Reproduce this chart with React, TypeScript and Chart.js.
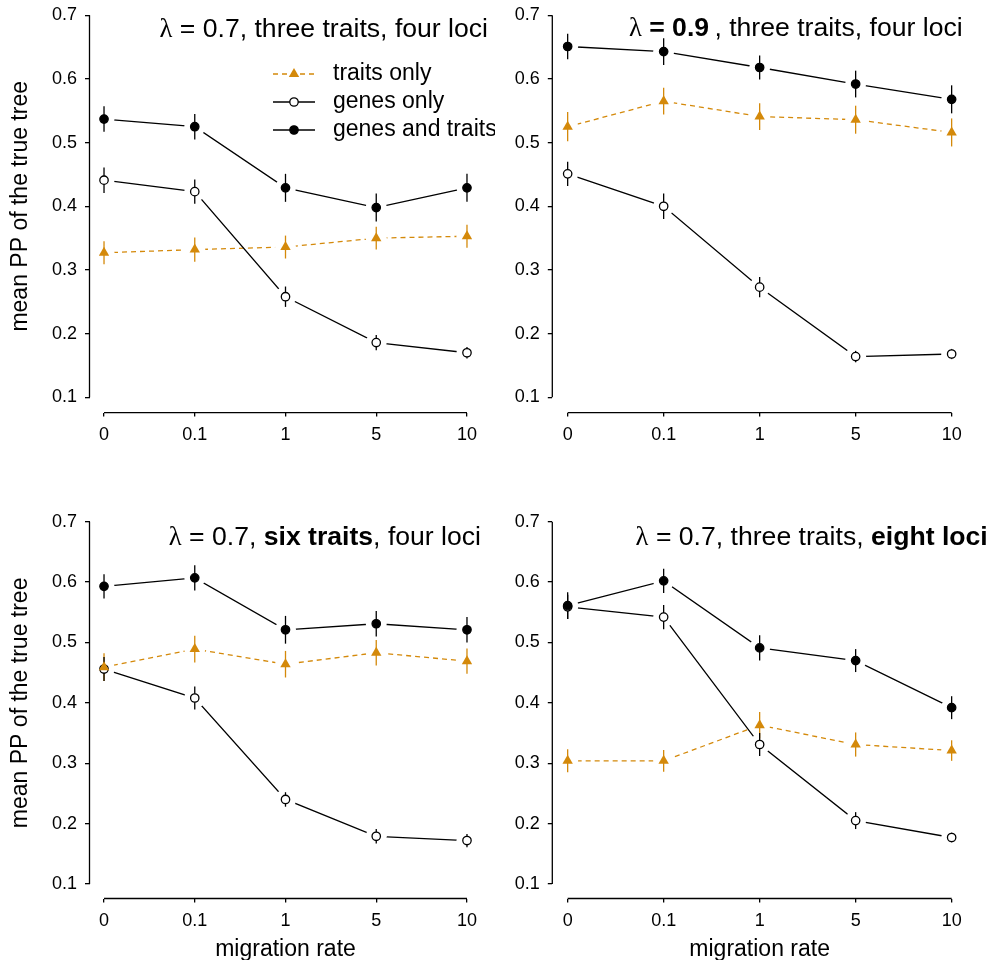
import React, { useEffect, useRef } from 'react';
import { Chart, registerables } from 'chart.js';

Chart.register(...registerables);

// ---------- data ----------
const migrationRates = ['0', '0.1', '1', '5', '10'];
const yTickValues = [0.1, 0.2, 0.3, 0.4, 0.5, 0.6, 0.7];
const seriesNames = ['traits only', 'genes only', 'genes and traits'];
const yAxisTitle = 'mean PP of the true tree';
const xAxisTitle = 'migration rate';

// Panel A: lambda = 0.7, three traits, four loci
const aTraits = [0.327, 0.332, 0.336, 0.350, 0.353];
const aTraitsErr = [0.018, 0.019, 0.018, 0.018, 0.018];
const aGenes = [0.441, 0.423, 0.258, 0.186, 0.170];
const aGenesErr = [0.020, 0.019, 0.016, 0.012, 0.009];
const aBoth = [0.537, 0.525, 0.429, 0.398, 0.429];
const aBothErr = [0.020, 0.020, 0.022, 0.022, 0.022];

// Panel B: lambda = 0.9, three traits, four loci
const bTraits = [0.525, 0.565, 0.541, 0.536, 0.516];
const bTraitsErr = [0.023, 0.021, 0.021, 0.022, 0.022];
const bGenes = [0.451, 0.400, 0.273, 0.164, 0.168];
const bGenesErr = [0.019, 0.020, 0.016, 0.009, 0.008];
const bBoth = [0.651, 0.643, 0.618, 0.592, 0.568];
const bBothErr = [0.020, 0.021, 0.019, 0.021, 0.022];

// Panel C: lambda = 0.7, six traits, four loci
const cTraits = [0.459, 0.489, 0.464, 0.483, 0.469];
const cTraitsErr = [0.023, 0.022, 0.022, 0.021, 0.021];
const cGenes = [0.456, 0.408, 0.240, 0.179, 0.172];
const cGenesErr = [0.020, 0.019, 0.012, 0.012, 0.011];
const cBoth = [0.593, 0.607, 0.521, 0.531, 0.521];
const cBothErr = [0.020, 0.021, 0.023, 0.021, 0.021];

// Panel D: lambda = 0.7, three traits, eight loci
const dTraits = [0.304, 0.304, 0.363, 0.331, 0.321];
const dTraitsErr = [0.019, 0.018, 0.022, 0.020, 0.017];
const dGenes = [0.559, 0.542, 0.331, 0.205, 0.177];
const dGenesErr = [0.020, 0.020, 0.019, 0.014, 0.008];
const dBoth = [0.561, 0.602, 0.491, 0.470, 0.392];
const dBothErr = [0.022, 0.020, 0.021, 0.019, 0.019];

// title pieces: [text, style]  style: 's' = symbol, 'n' = normal, 'b' = bold
const aTitle = [['λ', 's'], [' = 0.7, three traits, four loci', 'n']];
const bTitle = [['λ', 's'], [' ', 'n'], ['= 0.9', 'b'], ['\u2009, three traits, four loci', 'n']];
const cTitle = [['λ', 's'], [' = 0.7, ', 'n'], ['six traits', 'b'], [', four loci', 'n']];
const dTitle = [['λ', 's'], [' = 0.7, three traits, ', 'n'], ['eight loci', 'b']];

// ---------- styling ----------
const FAMILY = '"Liberation Sans", Arial, Helvetica, sans-serif';
const SERIF = '"Liberation Serif", "Times New Roman", serif';
const ORANGE = '#D4890A';
const TICK_FONT = 18;
const LABEL_FONT = 23;
const TITLE_FONT = 26.6;
const GAP_RADIUS = 10.5;

type Panel = {
  left: number; top: number; w: number; h: number;
  yAxisW: number; xAxisH: number; padRight: number; padTop: number;
  showYTitle: boolean; showXTitle: boolean; showLegend: boolean;
  title: string[][]; titleRight: number; titleBaseline: number;
  traits: number[]; traitsErr: number[]; genes: number[]; genesErr: number[]; both: number[]; bothErr: number[];
};

const panels: Panel[] = [
  { left: 0, top: 0, w: 495, h: 470, yAxisW: 89.5, xAxisH: 57.4, padRight: 13.5, padTop: 0,
    showYTitle: true, showXTitle: false, showLegend: true, title: aTitle, titleRight: 488, titleBaseline: 37,
    traits: aTraits, traitsErr: aTraitsErr, genes: aGenes, genesErr: aGenesErr, both: aBoth, bothErr: aBothErr },
  { left: 495, top: 0, w: 495, h: 470, yAxisW: 57.3, xAxisH: 57.4, padRight: 23, padTop: 0,
    showYTitle: false, showXTitle: false, showLegend: false, title: bTitle, titleRight: 467.7, titleBaseline: 36,
    traits: bTraits, traitsErr: bTraitsErr, genes: bGenes, genesErr: bGenesErr, both: bBoth, bothErr: bBothErr },
  { left: 0, top: 480, w: 495, h: 480, yAxisW: 89.5, xAxisH: 61.5, padRight: 13.5, padTop: 27.2,
    showYTitle: true, showXTitle: true, showLegend: false, title: cTitle, titleRight: 481, titleBaseline: 65,
    traits: cTraits, traitsErr: cTraitsErr, genes: cGenes, genesErr: cGenesErr, both: cBoth, bothErr: cBothErr },
  { left: 495, top: 480, w: 495, h: 480, yAxisW: 57.3, xAxisH: 61.5, padRight: 23, padTop: 27.2,
    showYTitle: false, showXTitle: true, showLegend: false, title: dTitle, titleRight: 492.7, titleBaseline: 65,
    traits: dTraits, traitsErr: dTraitsErr, genes: dGenes, genesErr: dGenesErr, both: dBoth, bothErr: dBothErr },
];

function fontFor(style: string, size: number) {
  if (style === 's') return `${size}px ${SERIF}`;
  if (style === 'b') return `bold ${size}px ${FAMILY}`;
  return `${size}px ${FAMILY}`;
}

function drawMarker(ctx: CanvasRenderingContext2D, kind: string, x: number, y: number) {
  ctx.save();
  if (kind === 'triangle') {
    const r = 6;
    ctx.fillStyle = ORANGE;
    ctx.beginPath();
    ctx.moveTo(x, y - r);
    ctx.lineTo(x + r * Math.sqrt(3) / 2, y + r / 2);
    ctx.lineTo(x - r * Math.sqrt(3) / 2, y + r / 2);
    ctx.closePath();
    ctx.fill();
  } else {
    ctx.beginPath();
    ctx.arc(x, y, 4.2, 0, Math.PI * 2);
    ctx.fillStyle = kind === 'open' ? '#fff' : '#000';
    ctx.fill();
    ctx.lineWidth = 1.3;
    ctx.strokeStyle = '#000';
    ctx.stroke();
  }
  ctx.restore();
}

function makeChart(canvas: HTMLCanvasElement, p: Panel) {
  const pts = (arr: number[]) => arr.map((v, i) => ({ x: i, y: v }));
  const traitsS = { name: seriesNames[0], values: p.traits, err: p.traitsErr, color: ORANGE, dash: [5, 4], style: 'triangle', fill: ORANGE, border: ORANGE, bw: 0, radius: 6 };
  const genesS = { name: seriesNames[1], values: p.genes, err: p.genesErr, color: '#000', dash: [], style: 'circle', fill: '#fff', border: '#000', bw: 1.3, radius: 4.2 };
  const bothS = { name: seriesNames[2], values: p.both, err: p.bothErr, color: '#000', dash: [], style: 'circle', fill: '#000', border: '#000', bw: 1.3, radius: 4.2 };
  // index 0 is drawn on top; markers first, connecting lines last (drawn underneath)
  const markerOrder = [bothS, traitsS, genesS];
  const lineOrder = [bothS, genesS, traitsS];
  const datasets: any[] = [];
  markerOrder.forEach((s) => {
    datasets.push({
      label: s.name, data: pts(s.values), showLine: false, pointStyle: s.style, pointRadius: s.radius,
      pointHoverRadius: s.radius, pointBackgroundColor: s.fill, pointBorderColor: s.border,
      pointBorderWidth: s.bw, errors: s.err, errColor: s.color,
    });
  });
  lineOrder.forEach((s) => {
    datasets.push({
      label: s.name + ' (line)', data: pts(s.values), borderColor: s.color, borderDash: s.dash,
      borderWidth: 1.3, pointRadius: 0, pointHoverRadius: 0, fill: false, tension: 0,
    });
  });

  // white gaps around the points (type "b" look) and the error bars, drawn
  // after the connecting lines and before the markers
  const errorBars = {
    id: 'errorBars',
    beforeDatasetsDraw(chart: any) { chart.$errDone = false; },
    beforeDatasetDraw(chart: any, args: any) {
      if (chart.$errDone) return;
      const ds = chart.data.datasets[args.index];
      if (!ds.errors) return;
      chart.$errDone = true;
      const { ctx, scales: { x, y } } = chart;
      ctx.save();
      ctx.fillStyle = '#fff';
      chart.data.datasets.forEach((d: any, di: number) => {
        if (!d.errors) return;
        const meta = chart.getDatasetMeta(di);
        meta.data.forEach((el: any) => {
          ctx.beginPath();
          ctx.arc(el.x, el.y, GAP_RADIUS, 0, Math.PI * 2);
          ctx.fill();
        });
      });
      ctx.lineWidth = 1.3;
      chart.data.datasets.forEach((d: any) => {
        if (!d.errors) return;
        ctx.strokeStyle = d.errColor;
        d.data.forEach((pt: any, i: number) => {
          const px = x.getPixelForValue(pt.x);
          ctx.beginPath();
          ctx.moveTo(px, y.getPixelForValue(pt.y - d.errors[i]));
          ctx.lineTo(px, y.getPixelForValue(pt.y + d.errors[i]));
          ctx.stroke();
        });
      });
      ctx.restore();
    },
  };

  const rAxes = {
    id: 'rAxes',
    afterDraw(chart: any) {
      const { ctx, chartArea, scales: { x, y } } = chart;
      ctx.save();
      ctx.strokeStyle = '#000';
      ctx.lineWidth = 1.3;
      ctx.beginPath();
      ctx.moveTo(chartArea.left, y.getPixelForValue(yTickValues[0]));
      ctx.lineTo(chartArea.left, y.getPixelForValue(yTickValues[yTickValues.length - 1]));
      ctx.moveTo(x.getPixelForValue(0), chartArea.bottom);
      ctx.lineTo(x.getPixelForValue(migrationRates.length - 1), chartArea.bottom);
      ctx.stroke();

      // panel title
      const parts = p.title;
      let total = 0;
      parts.forEach(([t, st]) => { ctx.font = fontFor(st, TITLE_FONT); total += ctx.measureText(t).width; });
      let cx = p.titleRight - total;
      ctx.fillStyle = '#000';
      ctx.textBaseline = 'alphabetic';
      ctx.textAlign = 'left';
      parts.forEach(([t, st]) => {
        ctx.font = fontFor(st, TITLE_FONT);
        ctx.fillText(t, cx, p.titleBaseline);
        cx += ctx.measureText(t).width;
      });

      // legend
      if (p.showLegend) {
        const rows = [74, 102, 130];
        const kinds = ['triangle', 'open', 'filled'];
        const x0 = 273, x1 = 315, xm = 294, tx = 333;
        rows.forEach((ry, k) => {
          ctx.save();
          ctx.lineWidth = 1.3;
          ctx.strokeStyle = k === 0 ? ORANGE : '#000';
          ctx.setLineDash(k === 0 ? [5, 4] : []);
          ctx.beginPath();
          ctx.moveTo(x0, ry);
          ctx.lineTo(x1, ry);
          ctx.stroke();
          ctx.restore();
          drawMarker(ctx, kinds[k], xm, ry);
          ctx.font = `${LABEL_FONT}px ${FAMILY}`;
          ctx.fillStyle = '#000';
          ctx.textBaseline = 'middle';
          ctx.fillText(seriesNames[k], tx, ry);
        });
      }
      ctx.restore();
    },
  };

  const tickFont = { family: FAMILY, size: TICK_FONT };
  const labelFont = { family: FAMILY, size: LABEL_FONT };

  return new Chart(canvas, {
    type: 'line',
    data: { datasets },
    options: {
      animation: false,
      responsive: false,
      maintainAspectRatio: false,
      events: [],
      layout: { autoPadding: false, padding: { left: 0, right: p.padRight, top: p.padTop, bottom: 0 } },
      plugins: { legend: { display: false }, tooltip: { enabled: false }, title: { display: false } },
      scales: {
        x: {
          type: 'linear',
          min: -0.16,
          max: migrationRates.length - 1 + 0.16,
          afterBuildTicks: (s: any) => { s.ticks = migrationRates.map((_, i) => ({ value: i })); },
          afterFit: (s: any) => { s.height = p.xAxisH; s.paddingLeft = 0; s.paddingRight = 0; },
          ticks: {
            callback: (v: any) => migrationRates[v],
            font: tickFont, color: '#000', padding: 7.5, autoSkip: false, maxRotation: 0, minRotation: 0,
          },
          grid: { drawOnChartArea: false, drawTicks: true, tickLength: 4, color: '#000', lineWidth: 1.3 },
          border: { display: false },
          title: { display: p.showXTitle, text: xAxisTitle, font: { ...labelFont, lineHeight: 0.9 }, color: '#000', padding: { top: 0, bottom: 0 } },
        },
        y: {
          type: 'linear',
          min: 0.076,
          max: 0.724,
          afterBuildTicks: (s: any) => { s.ticks = yTickValues.map((v) => ({ value: v })); },
          afterFit: (s: any) => { s.width = p.yAxisW; s.paddingTop = 0; s.paddingBottom = 0; },
          ticks: {
            callback: (v: any) => Number(v).toFixed(1),
            font: tickFont, color: '#000', padding: 8,
          },
          grid: { drawOnChartArea: false, drawTicks: true, tickLength: 4.5, color: '#000', lineWidth: 1.3 },
          border: { display: false },
          title: { display: p.showYTitle, text: yAxisTitle, font: labelFont, color: '#000', padding: { top: 7, bottom: 0 } },
        },
      },
    } as any,
    plugins: [errorBars, rAxes],
  });
}

function PanelChart({ panel }: { panel: Panel }) {
  const ref = useRef<HTMLCanvasElement | null>(null);
  useEffect(() => {
    if (!ref.current) return;
    const chart = makeChart(ref.current, panel);
    return () => chart.destroy();
  }, [panel]);
  return (
    <canvas
      ref={ref}
      width={panel.w}
      height={panel.h}
      style={{ position: 'absolute', left: panel.left, top: panel.top, width: panel.w, height: panel.h }}
    />
  );
}

export default function App() {
  return (
    <div style={{ position: 'absolute', left: 0, top: 0, width: 990, height: 960, background: '#fff' }}>
      {panels.map((p, i) => (
        <PanelChart key={i} panel={p} />
      ))}
    </div>
  );
}
